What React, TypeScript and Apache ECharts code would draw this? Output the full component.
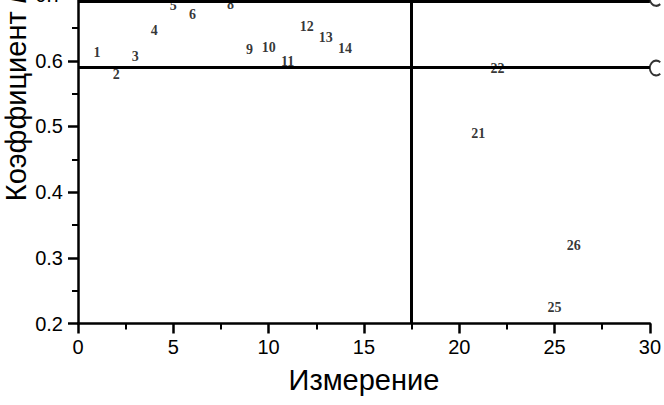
import React, { useEffect, useRef } from "react";
import * as echarts from "echarts";

// Measurement number, coefficient k, and the printed label for each point
const measurement = [1, 2, 3, 4, 5, 6, 8, 9, 10, 11, 12, 13, 14, 21, 22, 25, 26];
const coefficient = [0.612, 0.579, 0.607, 0.646, 0.684, 0.671, 0.685, 0.617, 0.62, 0.599, 0.652, 0.635, 0.619, 0.49, 0.588, 0.224, 0.318];
const pointLabels = ["1", "2", "3", "4", "5", "6", "8", "9", "10", "11", "12", "13", "14", "21", "22", "25", "26"];

// Reference lines
const horizontalLines = [0.589, 0.695];
const verticalLines = [17.5];

const xMin = 0;
const xMax = 30;
const yMin = 0.2;
const yMax = 0.7;

const SANS = "'Liberation Sans', Arial, sans-serif";
const SERIF = "'Liberation Serif', 'Times New Roman', serif";

const C_PATH =
  "path://M16.43,2.34 A10,10 0 1,0 16.43,17.66 L14.82,15.75 A7.5,7.5 0 1,1 14.82,4.25 Z";

export default function App() {
  const ref = useRef<HTMLDivElement>(null);

  useEffect(() => {
    if (!ref.current) return;
    const chart = echarts.init(ref.current, null, { renderer: "svg" });

    const points = measurement.map((x, i) => [x, coefficient[i], pointLabels[i]]);

    chart.setOption({
      animation: false,
      backgroundColor: "#ffffff",
      grid: { left: 78, right: 12, top: 15.1, bottom: 81.5, containLabel: false },
      xAxis: {
        type: "value",
        min: xMin,
        max: xMax,
        interval: 5,
        name: "Измерение",
        nameLocation: "middle",
        nameGap: 42,
        nameTextStyle: { fontFamily: SANS, fontSize: 29, color: "#000" },
        axisLine: { show: true, lineStyle: { color: "#000", width: 2.5 } },
        axisTick: { show: true, length: 10, lineStyle: { color: "#000", width: 2.5 } },
        minorTick: { show: true, splitNumber: 2, length: 6, lineStyle: { color: "#000", width: 2 } },
        axisLabel: { fontFamily: SANS, fontSize: 20, color: "#000", margin: 13 },
        splitLine: { show: false },
      },
      yAxis: {
        type: "value",
        min: yMin,
        max: yMax,
        interval: 0.1,
        axisLine: { show: true, lineStyle: { color: "#000", width: 2.5 } },
        axisTick: { show: true, length: 10, lineStyle: { color: "#000", width: 2.5 } },
        minorTick: { show: true, splitNumber: 2, length: 6, lineStyle: { color: "#000", width: 2 } },
        axisLabel: {
          fontFamily: SANS,
          fontSize: 20,
          color: "#000",
          margin: 15,
          formatter: (v: number) => v.toFixed(1),
        },
        splitLine: { show: false },
      },
      graphic: [
        {
          type: "text",
          x: 16,
          y: 115,
          rotation: Math.PI / 2,
          style: {
            text: "{a|Коэффициент }{b|k}",
            align: "center",
            verticalAlign: "middle",
            fill: "#000",
            rich: {
              a: { fontFamily: SANS, fontSize: 29, fill: "#000" },
              b: { fontFamily: SANS, fontSize: 29, fontStyle: "italic", fill: "#000" },
            },
          },
        },
      ],
      series: [
        {
          type: "scatter",
          data: points,
          symbolSize: 1,
          itemStyle: { color: "rgba(0,0,0,0)" },
          label: {
            show: true,
            position: "inside",
            formatter: (p: any) => p.value[2],
            fontFamily: SERIF,
            fontSize: 14,
            fontWeight: "bold",
            color: "#000",
          },
          markLine: {
            silent: true,
            symbol: "none",
            label: { show: false },
            lineStyle: { color: "#000", width: 3, type: "solid" },
            data: [
              ...horizontalLines.map((v) => ({ yAxis: v })),
              ...verticalLines.map((v) => ({ xAxis: v })),
            ],
          },
        },
        {
          type: "scatter",
          data: horizontalLines.map((v) => [xMax, v]),
          symbol: C_PATH,
          symbolSize: [12, 17],
          symbolOffset: [5, 0],
          clip: false,
          itemStyle: { color: "#000" },
          silent: true,
        },
      ],
    });

    return () => chart.dispose();
  }, []);

  return (
    <div
      ref={ref}
      style={{ position: "absolute", left: 0, top: -20, width: 664, height: 425 }}
    />
  );
}
